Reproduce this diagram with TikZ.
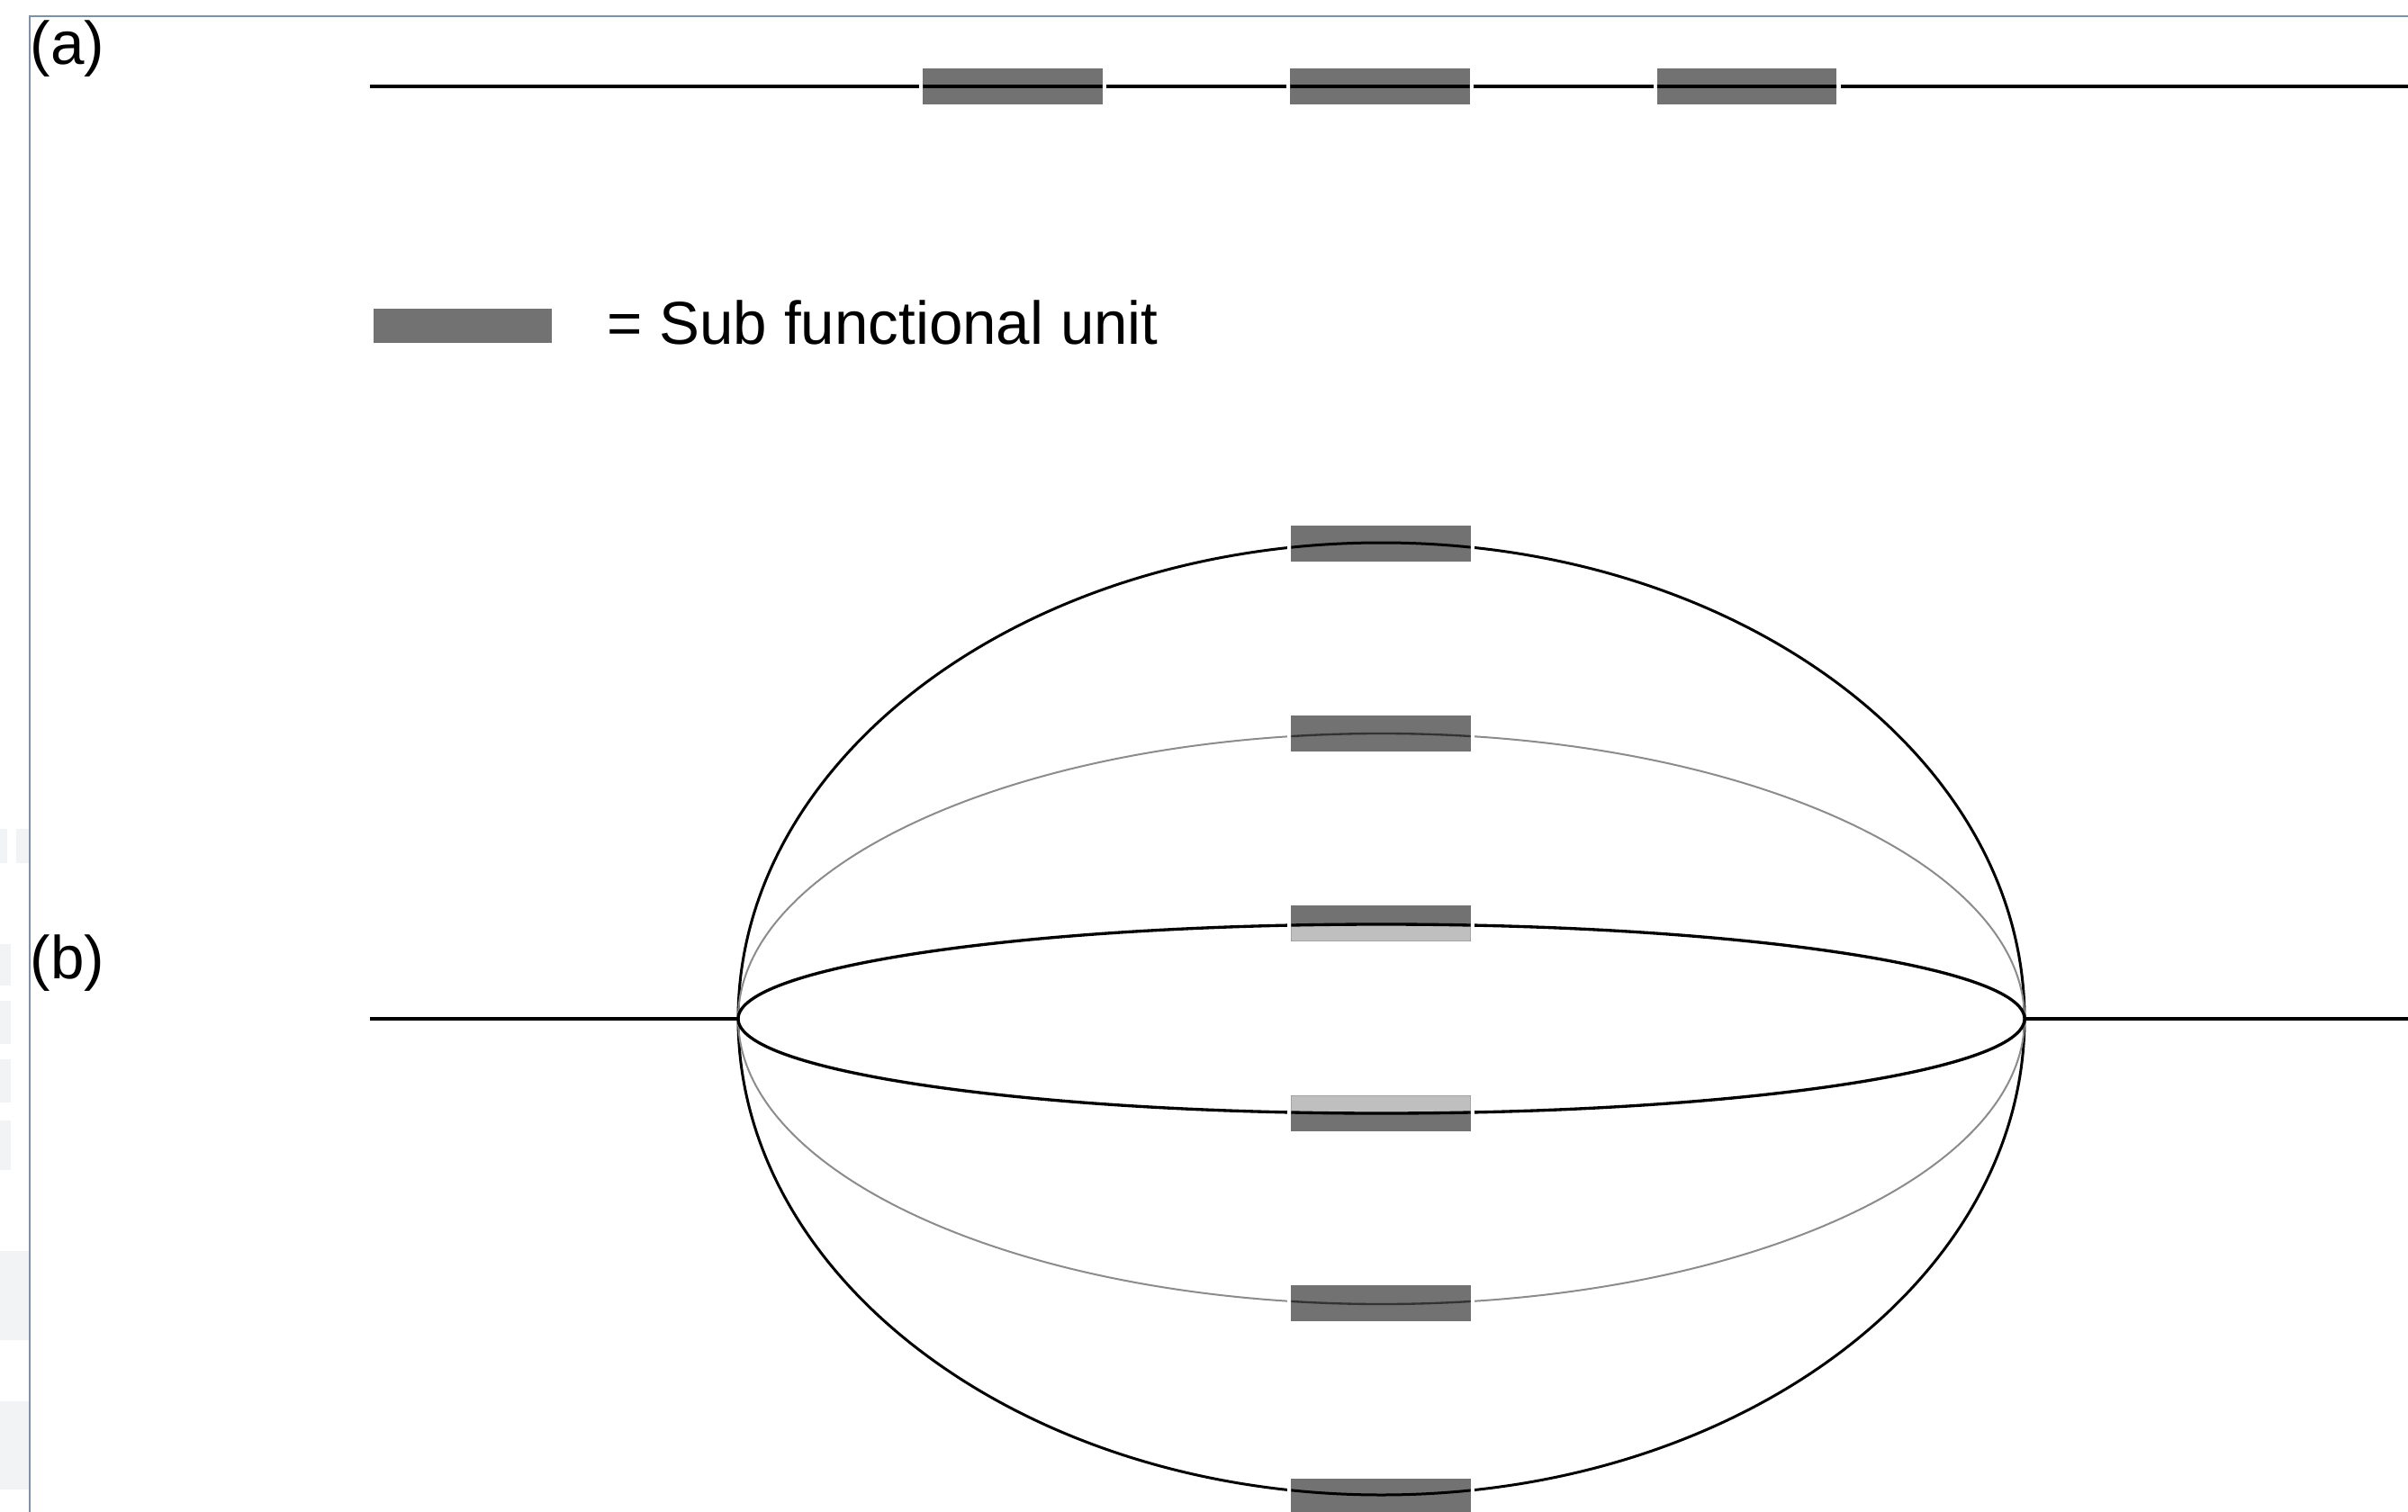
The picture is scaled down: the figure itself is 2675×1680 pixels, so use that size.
\documentclass[tikz,border=0pt]{standalone}
\usepackage{fontspec}
\setmainfont{Liberation Sans}
\definecolor{framecol}{HTML}{7A92AE}
\definecolor{unitfill}{HTML}{727272}
\definecolor{ghost}{HTML}{F2F3F5}
\definecolor{midline}{HTML}{8C8C8C}
\tikzset{
  sfu/.style={fill=unitfill, draw=none, minimum width=59.4pt, minimum height=11.4pt, inner sep=0pt},
  lbl/.style={inner sep=0pt, font=\fontsize{20.2pt}{24pt}\selectfont},
  strand/.style={line width=1.05pt, black},
  outerring/.style={line width=0.9pt, black},
  midring/.style={line width=0.6pt, midline},
  innerring/.style={line width=1pt, black},
}
\newcommand{\gapfill}[1]{\fill[white] ([xshift=-1.3pt]#1.south west) rectangle ([xshift=1.3pt]#1.north east);}
\begin{document}
\begin{tikzpicture}[x=0.3pt, y=-0.3pt]
\useasboundingbox (0,0) rectangle (2675,1680);
\fill[white] (0,0) rectangle (2675,1680);
% faint blocks at the far left edge
\fill[ghost] (0,921) rectangle (8,959);
\fill[ghost] (18,921) rectangle (32,959);
\fill[ghost] (0,1049) rectangle (12,1095);
\fill[ghost] (0,1112) rectangle (12,1160);
\fill[ghost] (0,1177) rectangle (12,1225);
\fill[ghost] (0,1245) rectangle (12,1300);
\fill[ghost] (0,1390) rectangle (32,1489);
\fill[ghost] (0,1557) rectangle (32,1655);
% frame
\draw[framecol, line width=0.6pt] (32.5,1680) -- (32.5,18.5) -- (2675,18.5);

% labels
\node[lbl, anchor=base west] (la) at (33,72) {(a)};
\node[lbl, anchor=base west] (lb) at (33,1087) {(b)};

% (a) linear strand
\coordinate (aL) at (411,96);
\coordinate (aR) at (2675,96);
\draw[strand] (aL) -- (aR);

% (b) branched strand
\coordinate (bL) at (411,1132);
\coordinate (bR) at (2675,1132);
\coordinate (L) at (820,1132);
\coordinate (R) at (2249,1132);
\draw[strand] (bL) -- (L);
\draw[strand] (R) -- (bR);
\draw[outerring] (L) arc [start angle=180, end angle=-180, x radius=714.5, y radius=529];
\draw[midring] (L) arc [start angle=180, end angle=-180, x radius=714.5, y radius=317];
\draw[innerring] (L) arc [start angle=180, end angle=-180, x radius=714.5, y radius=105];

% sub functional units: positions
\path
  (1125,96) coordinate (pa1)
  (1533,96) coordinate (pa2)
  (1940.5,96) coordinate (pa3)
  (1534,604) coordinate (pb1)
  (1534,815) coordinate (pb2)
  (1534,1026) coordinate (pb3)
  (1534,1237) coordinate (pb4)
  (1534,1448) coordinate (pb5)
  (1534,1663) coordinate (pb6);
\foreach \n in {a1,a2,a3,b1,b2,b3,b4,b5,b6}{
  \path (p\n) node[sfu, fill=none] (\n) {};
}
\foreach \n in {a1,a2,a3,b1,b2,b3,b4,b5,b6}{
  \gapfill{\n}
  \fill[unitfill] (\n.south west) rectangle (\n.north east);
}
% inner lens lightens the halves of the units it covers
\begin{scope}
  \clip (b3.south west) rectangle (b3.north east) (b4.south west) rectangle (b4.north east);
  \fill[white, opacity=0.55] (L) arc [start angle=180, end angle=-180, x radius=714.5, y radius=105];
\end{scope}
% strands seen through the units
\begin{scope}
  \clip (a1.south west) rectangle (a1.north east)
        (a2.south west) rectangle (a2.north east)
        (a3.south west) rectangle (a3.north east)
        (b1.south west) rectangle (b1.north east)
        (b2.south west) rectangle (b2.north east)
        (b3.south west) rectangle (b3.north east)
        (b4.south west) rectangle (b4.north east)
        (b5.south west) rectangle (b5.north east)
        (b6.south west) rectangle (b6.north east);
  \draw[strand] (aL) -- (aR);
  \draw[outerring] (L) arc [start angle=180, end angle=-180, x radius=714.5, y radius=529];
  \draw[line width=0.7pt, black!80] (L) arc [start angle=180, end angle=-180, x radius=714.5, y radius=317];
  \draw[innerring] (L) arc [start angle=180, end angle=-180, x radius=714.5, y radius=105];
\end{scope}

% key
\node[sfu] (key) at (513.5,362.5) {};
\node[lbl, anchor=base west] (keytext) at (674,383) {= Sub functional unit};
\end{tikzpicture}
\end{document}
